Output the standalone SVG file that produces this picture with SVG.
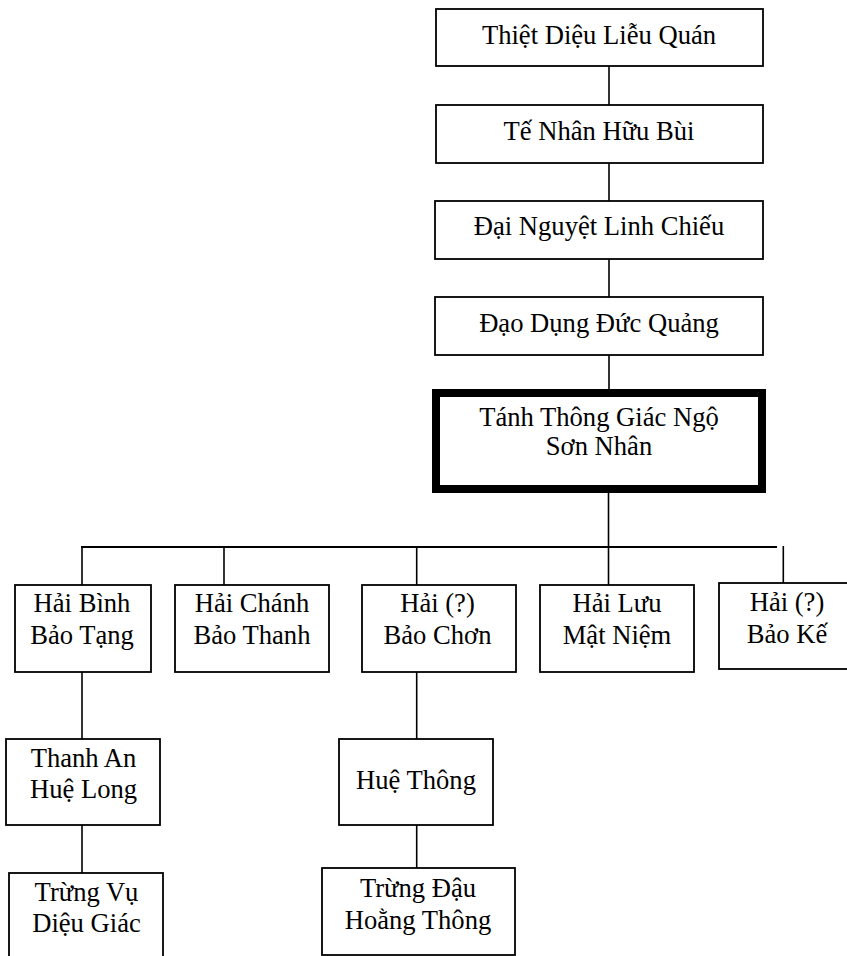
<svg xmlns="http://www.w3.org/2000/svg" width="847" height="956" viewBox="0 0 847 956">
<style>
.box{fill:#fff;stroke:#000;stroke-width:1.8}
.thick{fill:#fff;stroke:#000;stroke-width:8}
.t{font-family:"Liberation Serif","Times New Roman",serif;font-size:26.6px;fill:#000;text-anchor:middle}
.c{stroke:#000;stroke-width:1.6;fill:none}
</style>
<rect width="847" height="956" fill="#fff"/>
<g id="connectors">
<line class="c" x1="609" y1="66" x2="609" y2="105"/>
<line class="c" x1="609" y1="163" x2="609" y2="201"/>
<line class="c" x1="609" y1="259" x2="609" y2="297"/>
<line class="c" x1="609" y1="355" x2="609" y2="389"/>
<line class="c" x1="608.5" y1="493" x2="608.5" y2="585"/>
<line class="c" x1="81" y1="547" x2="777" y2="547" style="stroke-width:2"/>
<line class="c" x1="82" y1="547" x2="82" y2="585"/>
<line class="c" x1="82" y1="672" x2="82" y2="739"/>
<line class="c" x1="82" y1="825" x2="82" y2="873"/>
<line class="c" x1="224" y1="547" x2="224" y2="585"/>
<line class="c" x1="416.7" y1="547" x2="416.7" y2="585"/>
<line class="c" x1="416.7" y1="672" x2="416.7" y2="739"/>
<line class="c" x1="416.7" y1="825" x2="416.7" y2="868"/>
<line class="c" x1="783.3" y1="546" x2="783.3" y2="583"/>
</g>
<g id="n1"><rect class="box" x="436" y="9" width="327" height="57"/><text class="t" x="599" y="44">Thiệt Diệu Liễu Quán</text></g>
<g id="n2"><rect class="box" x="436" y="105" width="327" height="58"/><text class="t" x="599" y="140">Tế Nhân Hữu Bùi</text></g>
<g id="n3"><rect class="box" x="435" y="201" width="328" height="58"/><text class="t" x="599" y="235">Đại Nguyệt Linh Chiếu</text></g>
<g id="n4"><rect class="box" x="435" y="297" width="328" height="58"/><text class="t" x="599" y="332">Đạo Dụng Đức Quảng</text></g>
<g id="n5"><rect class="thick" x="436" y="393" width="326" height="96"/><text class="t" x="599" y="426">Tánh Thông Giác Ngộ</text><text class="t" x="599" y="455">Sơn Nhân</text></g>
<g id="n6"><rect class="box" x="15" y="585" width="136" height="87"/><text class="t" x="82" y="612">Hải Bình</text><text class="t" x="82" y="644">Bảo Tạng</text></g>
<g id="n7"><rect class="box" x="175" y="585" width="154" height="87"/><text class="t" x="252" y="612">Hải Chánh</text><text class="t" x="252" y="644">Bảo Thanh</text></g>
<g id="n8"><rect class="box" x="362" y="585" width="154" height="87"/><text class="t" x="437.5" y="612">Hải (?)</text><text class="t" x="437.5" y="644">Bảo Chơn</text></g>
<g id="n9"><rect class="box" x="540" y="585" width="154" height="87"/><text class="t" x="617" y="612">Hải Lưu</text><text class="t" x="617" y="644">Mật Niệm</text></g>
<g id="n10"><rect class="box" x="719" y="583" width="136" height="86"/><text class="t" x="787" y="610.5">Hải (?)</text><text class="t" x="787" y="642.5">Bảo Kế</text></g>
<g id="n11"><rect class="box" x="6" y="739" width="154" height="86"/><text class="t" x="83.5" y="767">Thanh An</text><text class="t" x="83.5" y="798">Huệ Long</text></g>
<g id="n12"><rect class="box" x="339" y="739" width="154" height="86"/><text class="t" x="416" y="789">Huệ Thông</text></g>
<g id="n13"><rect class="box" x="9" y="873" width="154" height="90"/><text class="t" x="86.5" y="901">Trừng Vụ</text><text class="t" x="86.5" y="932">Diệu Giác</text></g>
<g id="n14"><rect class="box" x="322" y="868" width="193" height="87"/><text class="t" x="418" y="897">Trừng Đậu</text><text class="t" x="418" y="929">Hoằng Thông</text></g>
</svg>
